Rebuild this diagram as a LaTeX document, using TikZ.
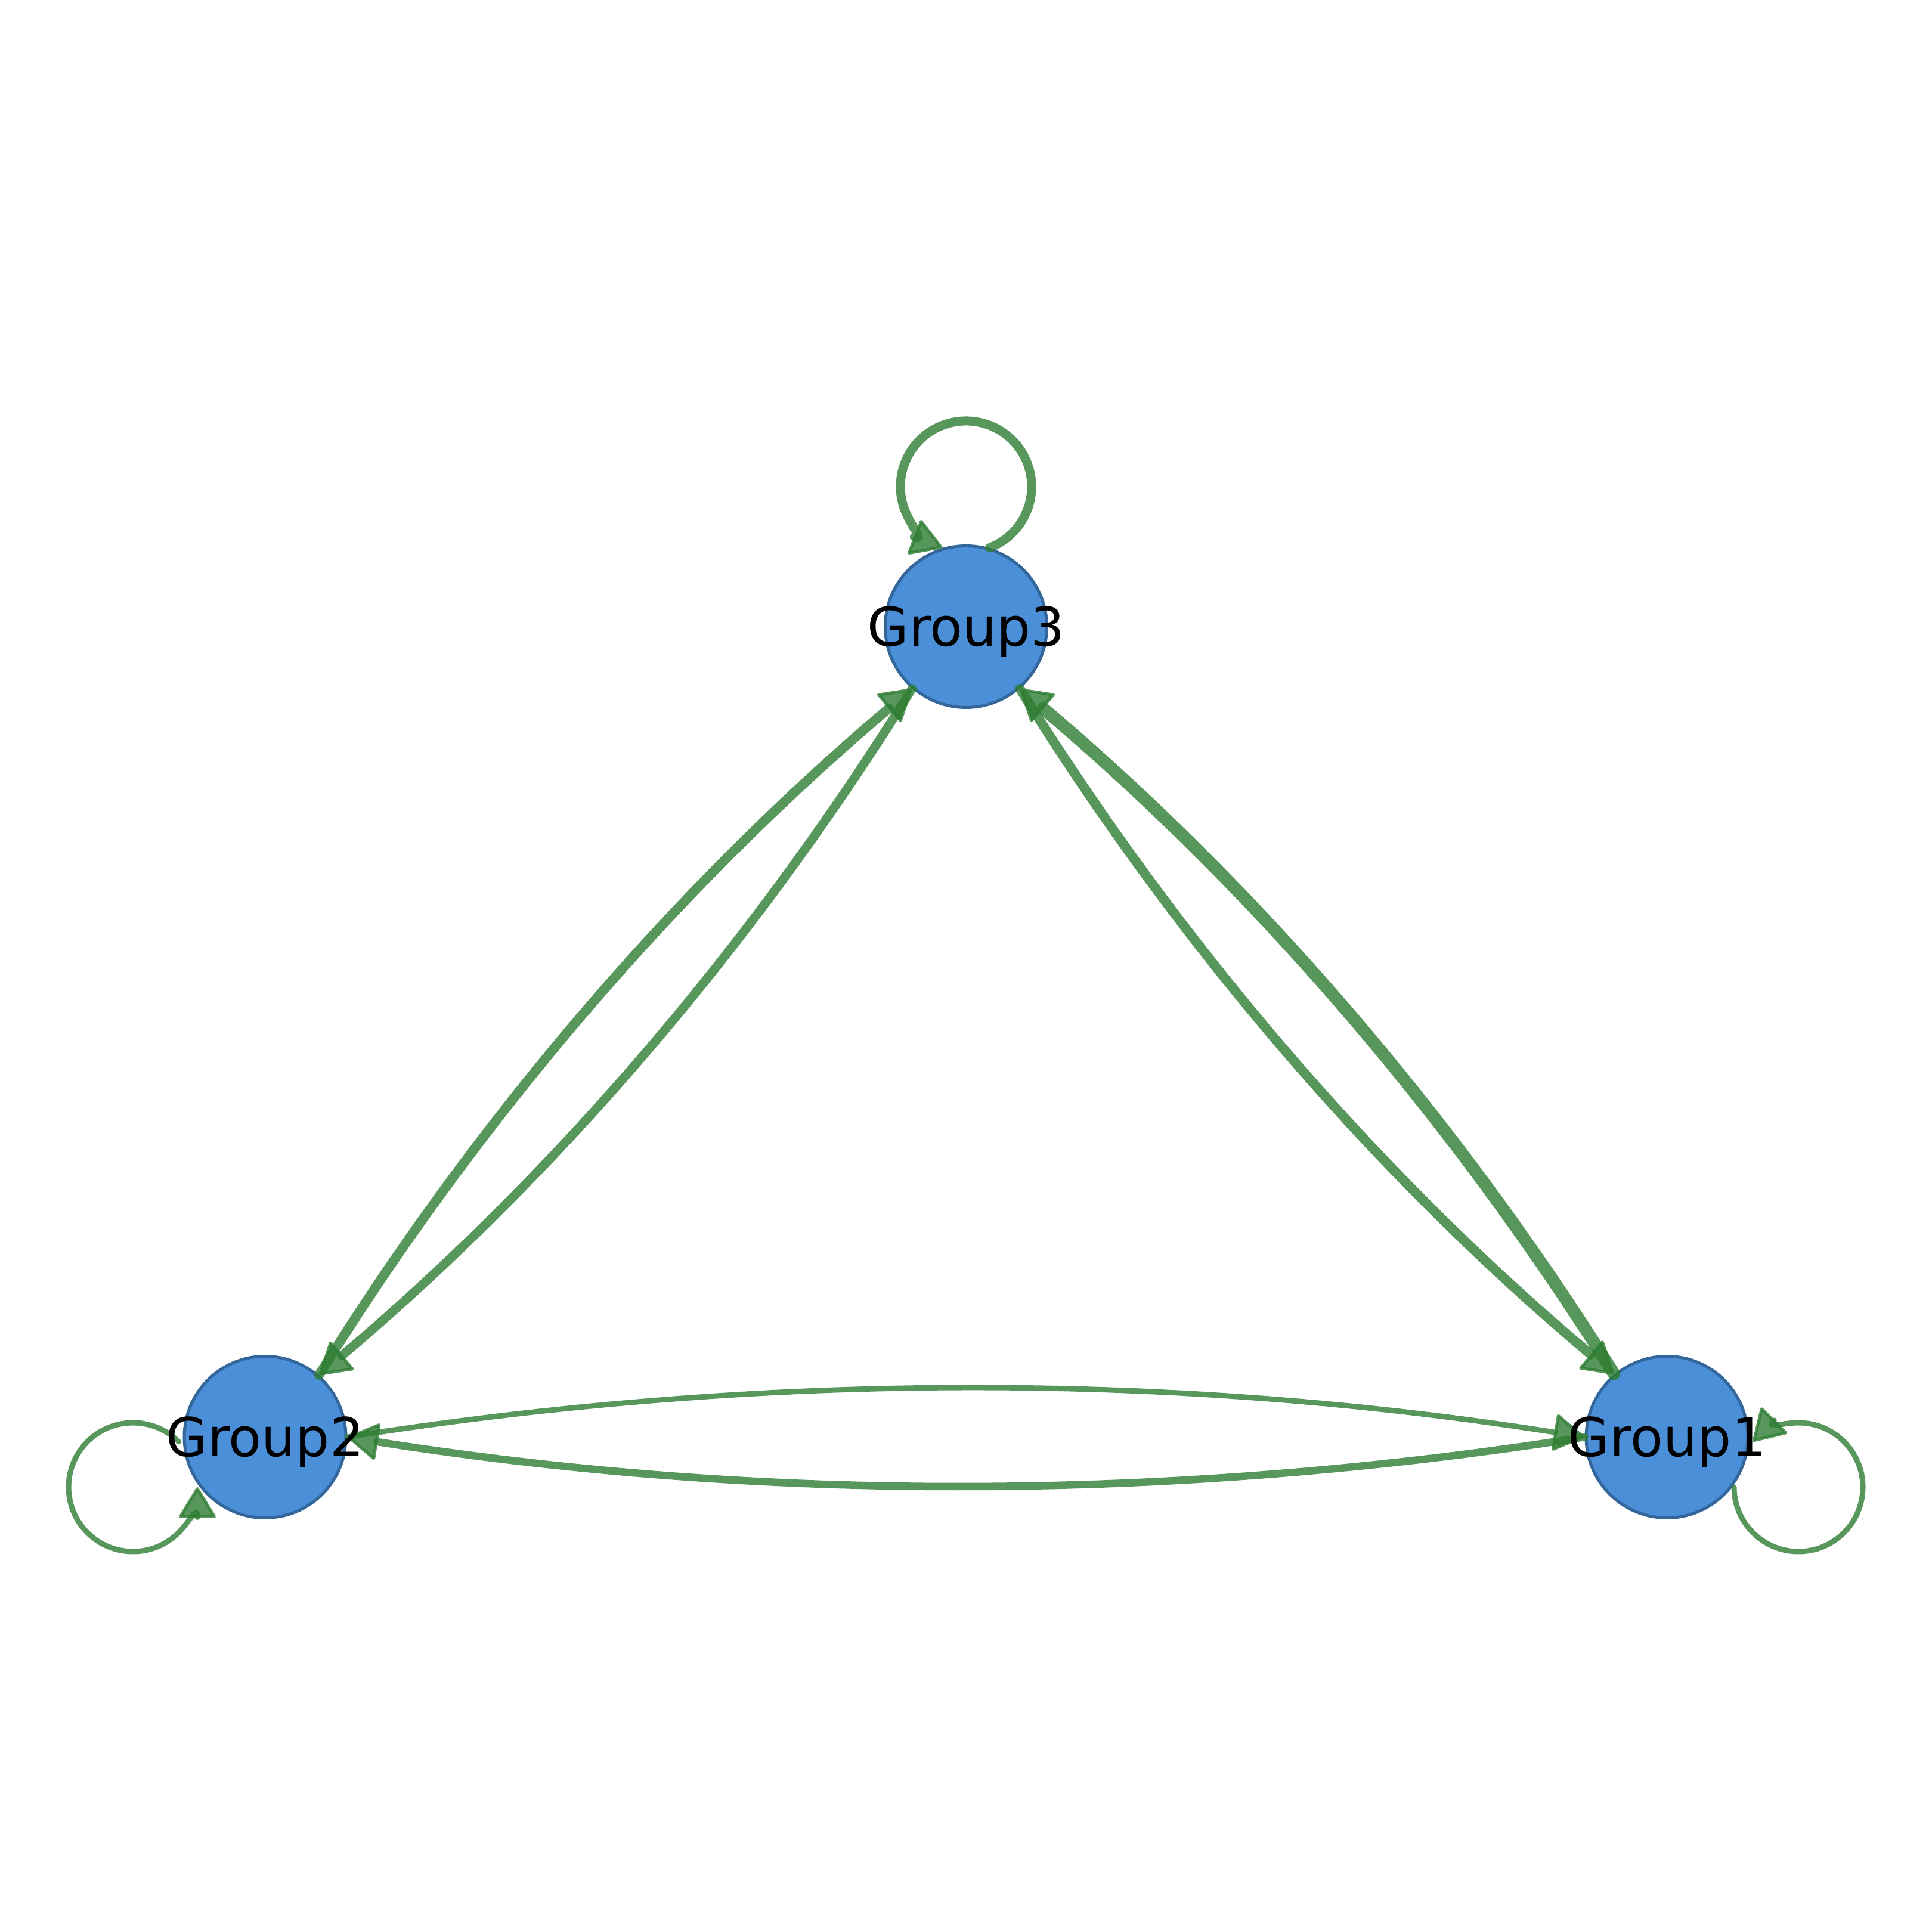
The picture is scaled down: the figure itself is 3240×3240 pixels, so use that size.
\documentclass[tikz,border=0pt]{standalone}
\usepackage{fontspec}
\setmainfont{DejaVu Sans}
\usetikzlibrary{arrows.meta,calc}
\definecolor{edgegreen}{HTML}{2E7D32}
\definecolor{nodefill}{HTML}{4A8FD8}
\definecolor{nodeline}{HTML}{33669A}
\begin{document}
\begin{tikzpicture}[x=0.24pt,y=0.24pt,
  groupnode/.style={circle,draw=nodeline,fill=nodefill,line width=1.2pt,minimum size=65.04pt,inner sep=0pt},
  grouplabel/.style={font=\fontsize{21.6}{26}\selectfont,text=black,anchor=base,inner sep=0pt},
  flow/.style={draw=edgegreen,opacity=0.8,line cap=round,
     -{Triangle[length=13pt,width=15.5pt,line width=1.2pt,round]}},
  w1/.style={line width=2.16pt},
  w2/.style={line width=3.0pt},
  w3/.style={line width=3.6pt},
  w4/.style={line width=3.84pt},
  w5/.style={line width=5.04pt}]
\fill[white] (0,0) rectangle (3240,3240);
\useasboundingbox (0,0) rectangle (3240,3240);

% nodes
\node[groupnode] (g1) at (2795.5,830) {};
\node[groupnode] (g2) at (444.5,830) {};
\node[groupnode] (g3) at (1620,2189) {};

% control points of the arcs (quadratic)
\coordinate (q21) at (1620,994);
\coordinate (q12) at (1620,666);
\coordinate (q23) at (941.5,1588);
\coordinate (q32) at (1123.1,1431);
\coordinate (q13) at (2298.5,1588);
\coordinate (q31) at (2116.9,1431);

% edges
\draw[flow,w1] (g2.0) .. controls ($(g2.0)!2/3!(q21)$) and ($(g1.180)!2/3!(q21)$) .. (g1.180);
\draw[flow,w2] (g1.180) .. controls ($(g1.180)!2/3!(q12)$) and ($(g2.0)!2/3!(q12)$) .. (g2.0);
\draw[flow,w4] (g2.49.14) .. controls ($(g2.49.14)!2/3!(q23)$) and ($(g3.229.14)!2/3!(q23)$) .. (g3.229.14);
\draw[flow,w3] (g3.229.14) .. controls ($(g3.229.14)!2/3!(q32)$) and ($(g2.49.14)!2/3!(q32)$) .. (g2.49.14);
\draw[flow,w5] (g1.130.86) .. controls ($(g1.130.86)!2/3!(q13)$) and ($(g3.-49.14)!2/3!(q13)$) .. (g3.-49.14);
\draw[flow,w4] (g3.-49.14) .. controls ($(g3.-49.14)!2/3!(q31)$) and ($(g1.130.86)!2/3!(q31)$) .. (g1.130.86);

% self loops
\draw[flow,w3] ($(g3)+(0,235)$) ++(-69:110) arc[start angle=-69,end angle=249,radius=110];
\draw[flow,w1] ($(g1)+(220.5,-84)$) ++(180:108) arc[start angle=180,end angle=495,radius=108];
\draw[flow,w1] ($(g2)+(-221.5,-84)$) ++(45:108) arc[start angle=45,end angle=360,radius=108];

% labels
\node[grouplabel] (t1) at ($(g1)+(0,-33)$) {Group1};
\node[grouplabel] (t2) at ($(g2)+(0,-33)$) {Group2};
\node[grouplabel] (t3) at ($(g3)+(0,-33)$) {Group3};
\end{tikzpicture}
\end{document}
